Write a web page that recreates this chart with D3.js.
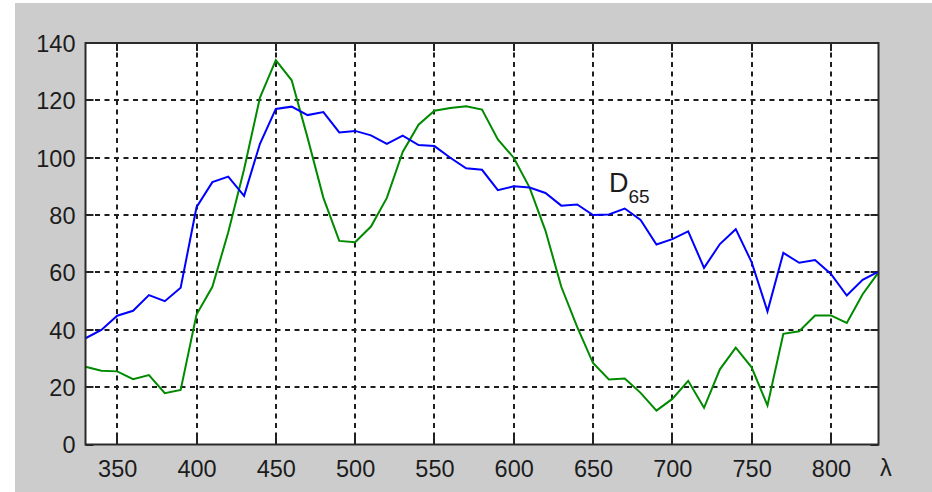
<!DOCTYPE html>
<html>
<head>
<meta charset="utf-8">
<script src="https://cdn.jsdelivr.net/npm/d3@7/dist/d3.min.js"></script>
<style>
  html, body { margin: 0; padding: 0; background: #ffffff; }
  svg { display: block; }
  text { font-family: "Liberation Sans", Arial, sans-serif; fill: #1c1c1c; }
</style>
</head>
<body>
<svg id="chart" width="932" height="492"></svg>
<script>
// Wavelength samples (nm), 10 nm steps
const wavelengths = d3.range(330, 831, 10);

// CIE standard illuminant D65 relative spectral power
const d65Values = [
  37.05, 39.95, 44.91, 46.64, 52.09, 49.98, 54.65, 82.75, 91.49, 93.43,
  86.68, 104.87, 117.01, 117.81, 114.86, 115.92, 108.81, 109.35, 107.80, 104.79,
  107.69, 104.41, 104.05, 100.00, 96.33, 95.79, 88.69, 90.01, 89.60, 87.70,
  83.29, 83.70, 80.03, 80.21, 82.28, 78.28, 69.72, 71.61, 74.35, 61.60,
  69.89, 75.09, 63.59, 46.42, 66.81, 63.38, 64.30, 59.45, 51.96, 57.44,
  60.31
];

// Second spectrum (green curve)
const secondValues = [
  27.1, 25.7, 25.5, 22.8, 24.2, 17.9, 19.0, 45.3, 55.0, 74.0,
  96.0, 121.0, 134.0, 127.0, 107.0, 86.0, 71.0, 70.5, 76.0, 86.0,
  102.0, 111.5, 116.4, 117.3, 117.9, 116.8, 106.4, 100.0, 89.6, 74.6,
  55.0, 41.0, 28.4, 22.7, 23.0, 18.0, 11.8, 15.9, 22.2, 12.8,
  26.2, 33.8, 26.9, 13.6, 38.6, 39.5, 45.0, 45.0, 42.4, 52.4,
  60.0
];

const xTicks = [350, 400, 450, 500, 550, 600, 650, 700, 750, 800];
const yTicks = [0, 20, 40, 60, 80, 100, 120, 140];

const svg = d3.select("#chart");

// Figure background
svg.append("rect")
  .attr("x", 15).attr("y", 3)
  .attr("width", 917).attr("height", 489)
  .attr("fill", "#cccccc");

const plotLeft = 85.5, plotTop = 43, plotRight = 878.5, plotBottom = 444.5;

const x = d3.scaleLinear().domain([330, 830]).range([plotLeft, plotRight]);
const y = d3.scaleLinear().domain([0, 140]).range([plotBottom, plotTop]);

// Plot area
svg.append("rect")
  .attr("x", plotLeft).attr("y", plotTop)
  .attr("width", plotRight - plotLeft).attr("height", plotBottom - plotTop)
  .attr("fill", "#ffffff");

// Dashed grid
const grid = svg.append("g")
  .attr("stroke", "#000")
  .attr("stroke-width", 2)
  .attr("stroke-dasharray", "5,4.5")
  .attr("opacity", 0.88);

grid.selectAll("line.v").data(xTicks).join("line")
  .attr("class", "v")
  .attr("x1", d => Math.round(x(d))).attr("x2", d => Math.round(x(d)))
  .attr("y1", plotTop).attr("y2", plotBottom);

grid.selectAll("line.h").data(yTicks.filter(d => d > 0 && d < 140)).join("line")
  .attr("class", "h")
  .attr("y1", d => Math.round(y(d))).attr("y2", d => Math.round(y(d)))
  .attr("x1", plotLeft).attr("x2", plotRight);

// Inward tick marks on all four sides
const tickLen = 8;
const ticks = svg.append("g").attr("stroke", "#222").attr("stroke-width", 2);
xTicks.forEach(d => {
  const px = Math.round(x(d));
  ticks.append("line").attr("x1", px).attr("x2", px).attr("y1", plotBottom).attr("y2", plotBottom - tickLen);
  ticks.append("line").attr("x1", px).attr("x2", px).attr("y1", plotTop).attr("y2", plotTop + tickLen);
});
yTicks.forEach(d => {
  const py = Math.round(y(d));
  ticks.append("line").attr("y1", py).attr("y2", py).attr("x1", plotLeft).attr("x2", plotLeft + tickLen);
  ticks.append("line").attr("y1", py).attr("y2", py).attr("x1", plotRight).attr("x2", plotRight - tickLen);
});

// Spectral curves
const line = d3.line()
  .x((d, i) => x(wavelengths[i]))
  .y(d => y(d));

svg.append("path")
  .datum(secondValues)
  .attr("fill", "none")
  .attr("stroke", "#008a00")
  .attr("stroke-width", 2)
  .attr("d", line);

svg.append("path")
  .datum(d65Values)
  .attr("fill", "none")
  .attr("stroke", "#0000ff")
  .attr("stroke-width", 2)
  .attr("d", line);

// Axes box
svg.append("rect")
  .attr("x", plotLeft).attr("y", plotTop)
  .attr("width", plotRight - plotLeft).attr("height", plotBottom - plotTop)
  .attr("fill", "none")
  .attr("stroke", "#2a2a2a")
  .attr("stroke-width", 2);

// Tick labels
const xAxis = d3.axisBottom(x).tickValues(xTicks).tickSize(0).tickPadding(0);
const gx = svg.append("g").attr("transform", `translate(0,${plotBottom})`).call(xAxis);
gx.select(".domain").remove();
gx.selectAll("text")
  .attr("y", 32)
  .attr("dy", null)
  .style("font-size", "23.5px")
  .style("font-family", "'Liberation Sans', Arial, sans-serif")
  .attr("fill", "#1c1c1c");

const yAxis = d3.axisLeft(y).tickValues(yTicks).tickSize(0).tickPadding(10);
const gy = svg.append("g").attr("transform", `translate(${plotLeft},0)`).call(yAxis);
gy.select(".domain").remove();
gy.selectAll("text")
  .attr("dy", "0.36em")
  .style("font-size", "23.5px")
  .style("font-family", "'Liberation Sans', Arial, sans-serif")
  .attr("fill", "#1c1c1c");

// Wavelength symbol at the end of the x axis
svg.append("text")
  .attr("x", 880).attr("y", 476)
  .style("font-size", "23.5px")
  .text("λ");

// Curve label
const lab = svg.append("text")
  .attr("x", x(660)).attr("y", y(88))
  .style("font-size", "27px");
lab.append("tspan").text("D");
lab.append("tspan").attr("dy", 11).style("font-size", "19px").text("65");
</script>
</body>
</html>
